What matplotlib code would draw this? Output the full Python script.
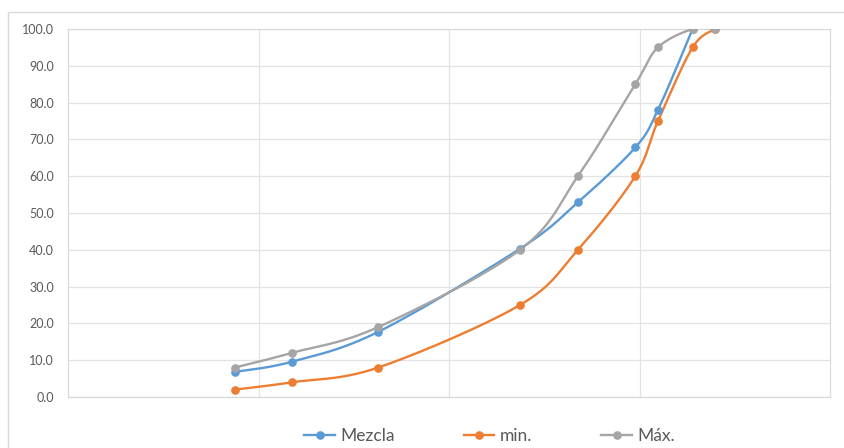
import numpy as np
import matplotlib
matplotlib.use("Agg")
import matplotlib.pyplot as plt
from matplotlib.patches import Rectangle
from matplotlib.lines import Line2D

plt.rcParams['font.family'] = ['Lato', 'DejaVu Sans']

# Sieve openings (mm) and percent passing
sieve_mm = [0.075, 0.15, 0.425, 2.36, 4.75, 9.5, 12.5, 19.0, 25.0]
mezcla = [6.8, 9.6, 17.7, 40.3, 52.9, 67.8, 78.0, 100.0]
minimo = [2.0, 4.0, 8.0, 25.0, 40.0, 60.0, 75.0, 95.0, 100.0]
maximo = [8.0, 12.0, 19.0, 40.0, 60.0, 85.0, 95.0, 100.0, 100.0]

series_names = ["Mezcla", "min.", "Máx."]
colors = ["#5B9BD5", "#ED7D31", "#A5A5A5"]
y_ticks = np.arange(0, 101, 10)


def smooth(xs, ys, n=40):
    """Catmull-Rom smoothing in (log10 x, y) space, like a smoothed line chart."""
    lx = np.log10(np.asarray(xs, float))
    y = np.asarray(ys, float)
    P = np.column_stack([lx, y])
    P = np.vstack([P[0], P, P[-1]])
    out = []
    for i in range(1, len(P) - 2):
        p0, p1, p2, p3 = P[i - 1], P[i], P[i + 1], P[i + 2]
        c1 = p1 + (p2 - p0) / 6.0
        c2 = p2 - (p3 - p1) / 6.0
        t = np.linspace(0, 1, n)[:, None]
        seg = ((1 - t) ** 3) * p1 + 3 * ((1 - t) ** 2) * t * c1 + 3 * (1 - t) * t ** 2 * c2 + t ** 3 * p2
        out.append(seg if i == 1 else seg[1:])
    out = np.vstack(out)
    return 10 ** out[:, 0], out[:, 1]


fig = plt.figure(figsize=(8.44, 4.48), dpi=100)
fig.patch.set_facecolor("white")

# chart border
fig.patches.append(Rectangle((8 / 844, -0.1), 1.0, (448 - 12) / 448 + 0.1,
                             transform=fig.transFigure, fill=False,
                             edgecolor="#D9D9D9", linewidth=1.0))

ax = fig.add_axes([68 / 844, (448 - 397) / 448, (830 - 68) / 844, (397 - 29) / 448])
ax.set_xscale("log")
ax.set_xlim(0.01, 100)
ax.set_ylim(0, 100)
ax.set_yticks(y_ticks)
ax.set_yticklabels([f"{v:.1f}" for v in y_ticks])
ax.tick_params(axis="y", length=0, pad=10, labelsize=9, labelcolor="#595959")
ax.tick_params(axis="x", which="both", length=0, labelbottom=False)
ax.set_xticks([0.1, 1, 10])
ax.set_xticks([], minor=True)
ax.grid(True, which="major", color="#E3E3E3", linewidth=0.9)
for s in ax.spines.values():
    s.set_color("#D9D9D9")
    s.set_linewidth(0.9)

handles = []
for name, vals, c in zip(series_names, [mezcla, minimo, maximo], colors):
    xs = sieve_mm[:len(vals)]
    sx, sy = smooth(xs, vals)
    ax.plot(sx, sy, color=c, linewidth=1.7, solid_capstyle="round", zorder=3)
    ax.plot(xs, vals, linestyle="none", marker="o", markersize=5.2,
            color=c, zorder=4)
    handles.append(Line2D([0], [0], color=c, linewidth=1.7, marker="o",
                          markersize=5.2))

fig.legend(handles, series_names, loc="center", bbox_to_anchor=(0.58, 12 / 448),
           ncol=3, frameon=False, fontsize=12.5, handlelength=1.75,
           columnspacing=4.0, handletextpad=0.3, labelcolor="#595959")

fig.savefig("out.png", dpi=100, facecolor="white")
